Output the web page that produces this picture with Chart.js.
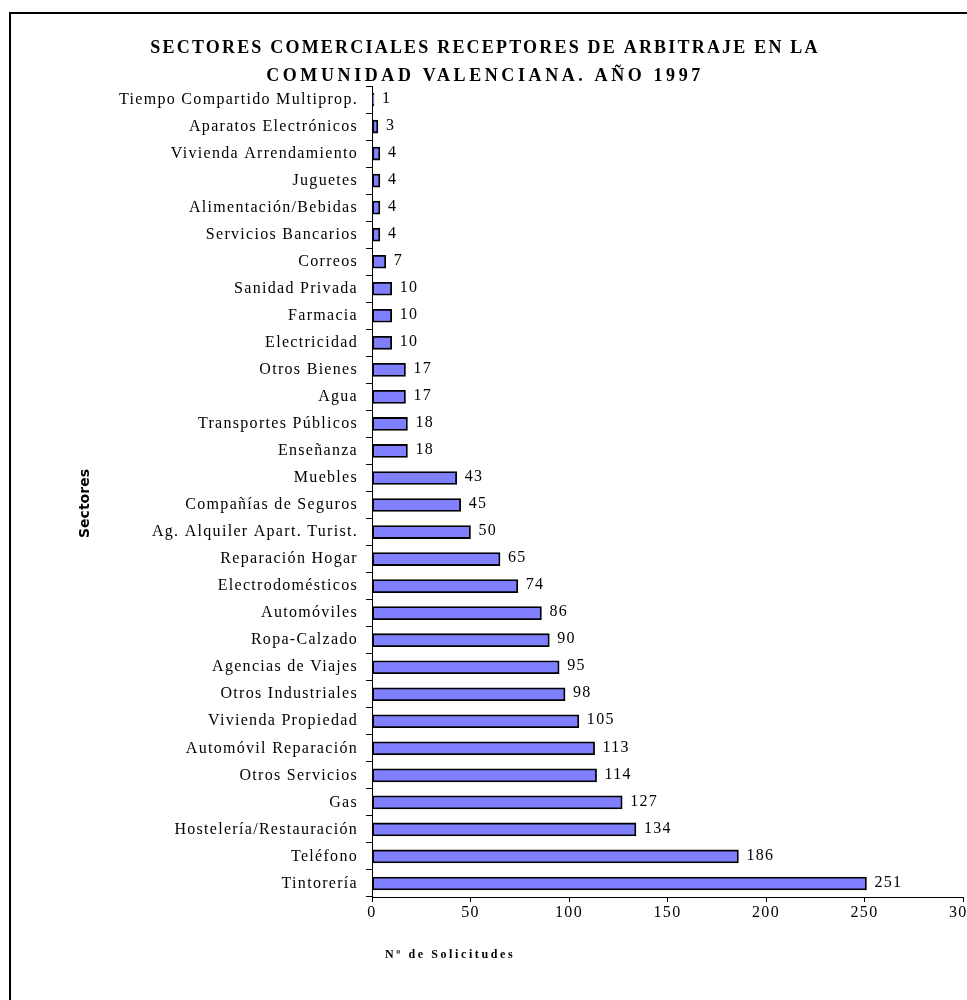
<!DOCTYPE html>
<html>
<head>
<meta charset="utf-8">
<script src="https://cdn.jsdelivr.net/npm/chart.js@4/dist/chart.umd.min.js"></script>
<style>
  html, body { margin: 0; padding: 0; background: #fff; overflow: hidden; }
  #wrap { position: relative; width: 967px; height: 1000px; }
  #frame { position: absolute; left: 9px; top: 12px; width: 1100px; height: 1100px;
           border: 2.5px solid #000; box-sizing: border-box; pointer-events: none; }
  canvas { position: absolute; left: 0; top: 0; }
</style>
</head>
<body>
<div id="wrap">
  <canvas id="c" width="967" height="1000"></canvas>
  <div id="frame"></div>
</div>
<script>
const titleLines = ["SECTORES COMERCIALES RECEPTORES DE ARBITRAJE EN LA", "COMUNIDAD VALENCIANA. AÑO 1997"];
const yAxisTitle = "Sectores";
const xAxisTitle = "Nº de Solicitudes";

const categories = [
  "Tiempo Compartido Multiprop.",
  "Aparatos Electrónicos",
  "Vivienda Arrendamiento",
  "Juguetes",
  "Alimentación/Bebidas",
  "Servicios Bancarios",
  "Correos",
  "Sanidad Privada",
  "Farmacia",
  "Electricidad",
  "Otros Bienes",
  "Agua",
  "Transportes Públicos",
  "Enseñanza",
  "Muebles",
  "Compañías de Seguros",
  "Ag. Alquiler Apart. Turist.",
  "Reparación Hogar",
  "Electrodomésticos",
  "Automóviles",
  "Ropa-Calzado",
  "Agencias de Viajes",
  "Otros Industriales",
  "Vivienda Propiedad",
  "Automóvil Reparación",
  "Otros Servicios",
  "Gas",
  "Hostelería/Restauración",
  "Teléfono",
  "Tintorería"
];
const solicitudes = [1, 3, 4, 4, 4, 4, 7, 10, 10, 10, 17, 17, 18, 18, 43, 45, 50, 65, 74, 86, 90, 95, 98, 105, 113, 114, 127, 134, 186, 251];
const xTicks = [0, 50, 100, 150, 200, 250, 300];

const SERIF = '"Liberation Serif", "Times New Roman", serif';

const spacingPlugin = {
  id: 'spacing',
  beforeLayout(chart) { chart.ctx.letterSpacing = '1.3px'; },
  beforeDraw(chart) { chart.ctx.letterSpacing = '1.3px'; }
};

const valueLabels = {
  id: 'valueLabels',
  afterDatasetsDraw(chart) {
    const ctx = chart.ctx;
    const meta = chart.getDatasetMeta(0);
    ctx.save();
    ctx.letterSpacing = '1.3px';
    ctx.font = '16px ' + SERIF;
    ctx.fillStyle = '#000';
    ctx.textAlign = 'left';
    ctx.textBaseline = 'middle';
    meta.data.forEach((bar, i) => {
      ctx.fillText(String(solicitudes[i]), bar.x + 8, bar.y - 1);
    });
    ctx.restore();
  }
};

const textPlugin = {
  id: 'texts',
  afterDraw(chart) {
    const ctx = chart.ctx;
    const area = chart.chartArea;
    ctx.save();
    ctx.fillStyle = '#000';
    // Main title
    ctx.font = 'bold 18px ' + SERIF;
    ctx.textAlign = 'center';
    ctx.textBaseline = 'middle';
    ctx.letterSpacing = '2.2px';
    ctx.fillText(titleLines[0], 485, 48);
    ctx.letterSpacing = '3.6px';
    ctx.fillText(titleLines[1], 485, 76);
    // X axis title
    ctx.letterSpacing = '2.6px';
    ctx.font = 'bold 12px ' + SERIF;
    ctx.textAlign = 'left';
    ctx.fillText(xAxisTitle, area.left + 13, 955);
    // Y axis title
    ctx.letterSpacing = '0px';
    ctx.font = 'bold 14px "DejaVu Sans", sans-serif';
    ctx.translate(85, (area.top + area.bottom) / 2 + 12);
    ctx.rotate(-Math.PI / 2);
    ctx.textAlign = 'center';
    ctx.fillText(yAxisTitle, 0, 0);
    ctx.restore();
  }
};

new Chart(document.getElementById('c'), {
  type: 'bar',
  data: {
    labels: categories,
    datasets: [{
      data: solicitudes,
      backgroundColor: '#8080FF',
      borderColor: '#000',
      borderWidth: 1.8,
      borderSkipped: false,
      barThickness: 13
    }]
  },
  options: {
    indexAxis: 'y',
    responsive: false,
    animation: false,
    devicePixelRatio: 1,
    layout: { autoPadding: false, padding: { top: 86, left: 70, right: 4, bottom: 0 } },
    plugins: { legend: { display: false }, title: { display: false }, tooltip: { enabled: false } },
    scales: {
      x: {
        min: 0, max: 300,
        afterBuildTicks(scale) { scale.ticks = xTicks.map(v => ({ value: v })); },
        afterFit(scale) { scale.height = 103; scale.paddingLeft = 0; scale.paddingRight = 0; },
        border: { color: '#000', width: 1 },
        grid: { drawOnChartArea: false, drawTicks: true, tickLength: 5, color: '#000', lineWidth: 1 },
        ticks: { color: '#000', font: { family: SERIF, size: 16 }, padding: 1, maxRotation: 0 }
      },
      y: {
        afterFit(scale) { scale.width = 302; scale.paddingTop = 0; scale.paddingBottom = 0; },
        border: { color: '#000', width: 1 },
        grid: { drawOnChartArea: false, drawTicks: true, tickLength: 6, color: '#000', lineWidth: 1, offset: true },
        ticks: { color: '#000', font: { family: SERIF, size: 16 }, padding: 8, autoSkip: false }
      }
    }
  },
  plugins: [spacingPlugin, valueLabels, textPlugin]
});
</script>
</body>
</html>
